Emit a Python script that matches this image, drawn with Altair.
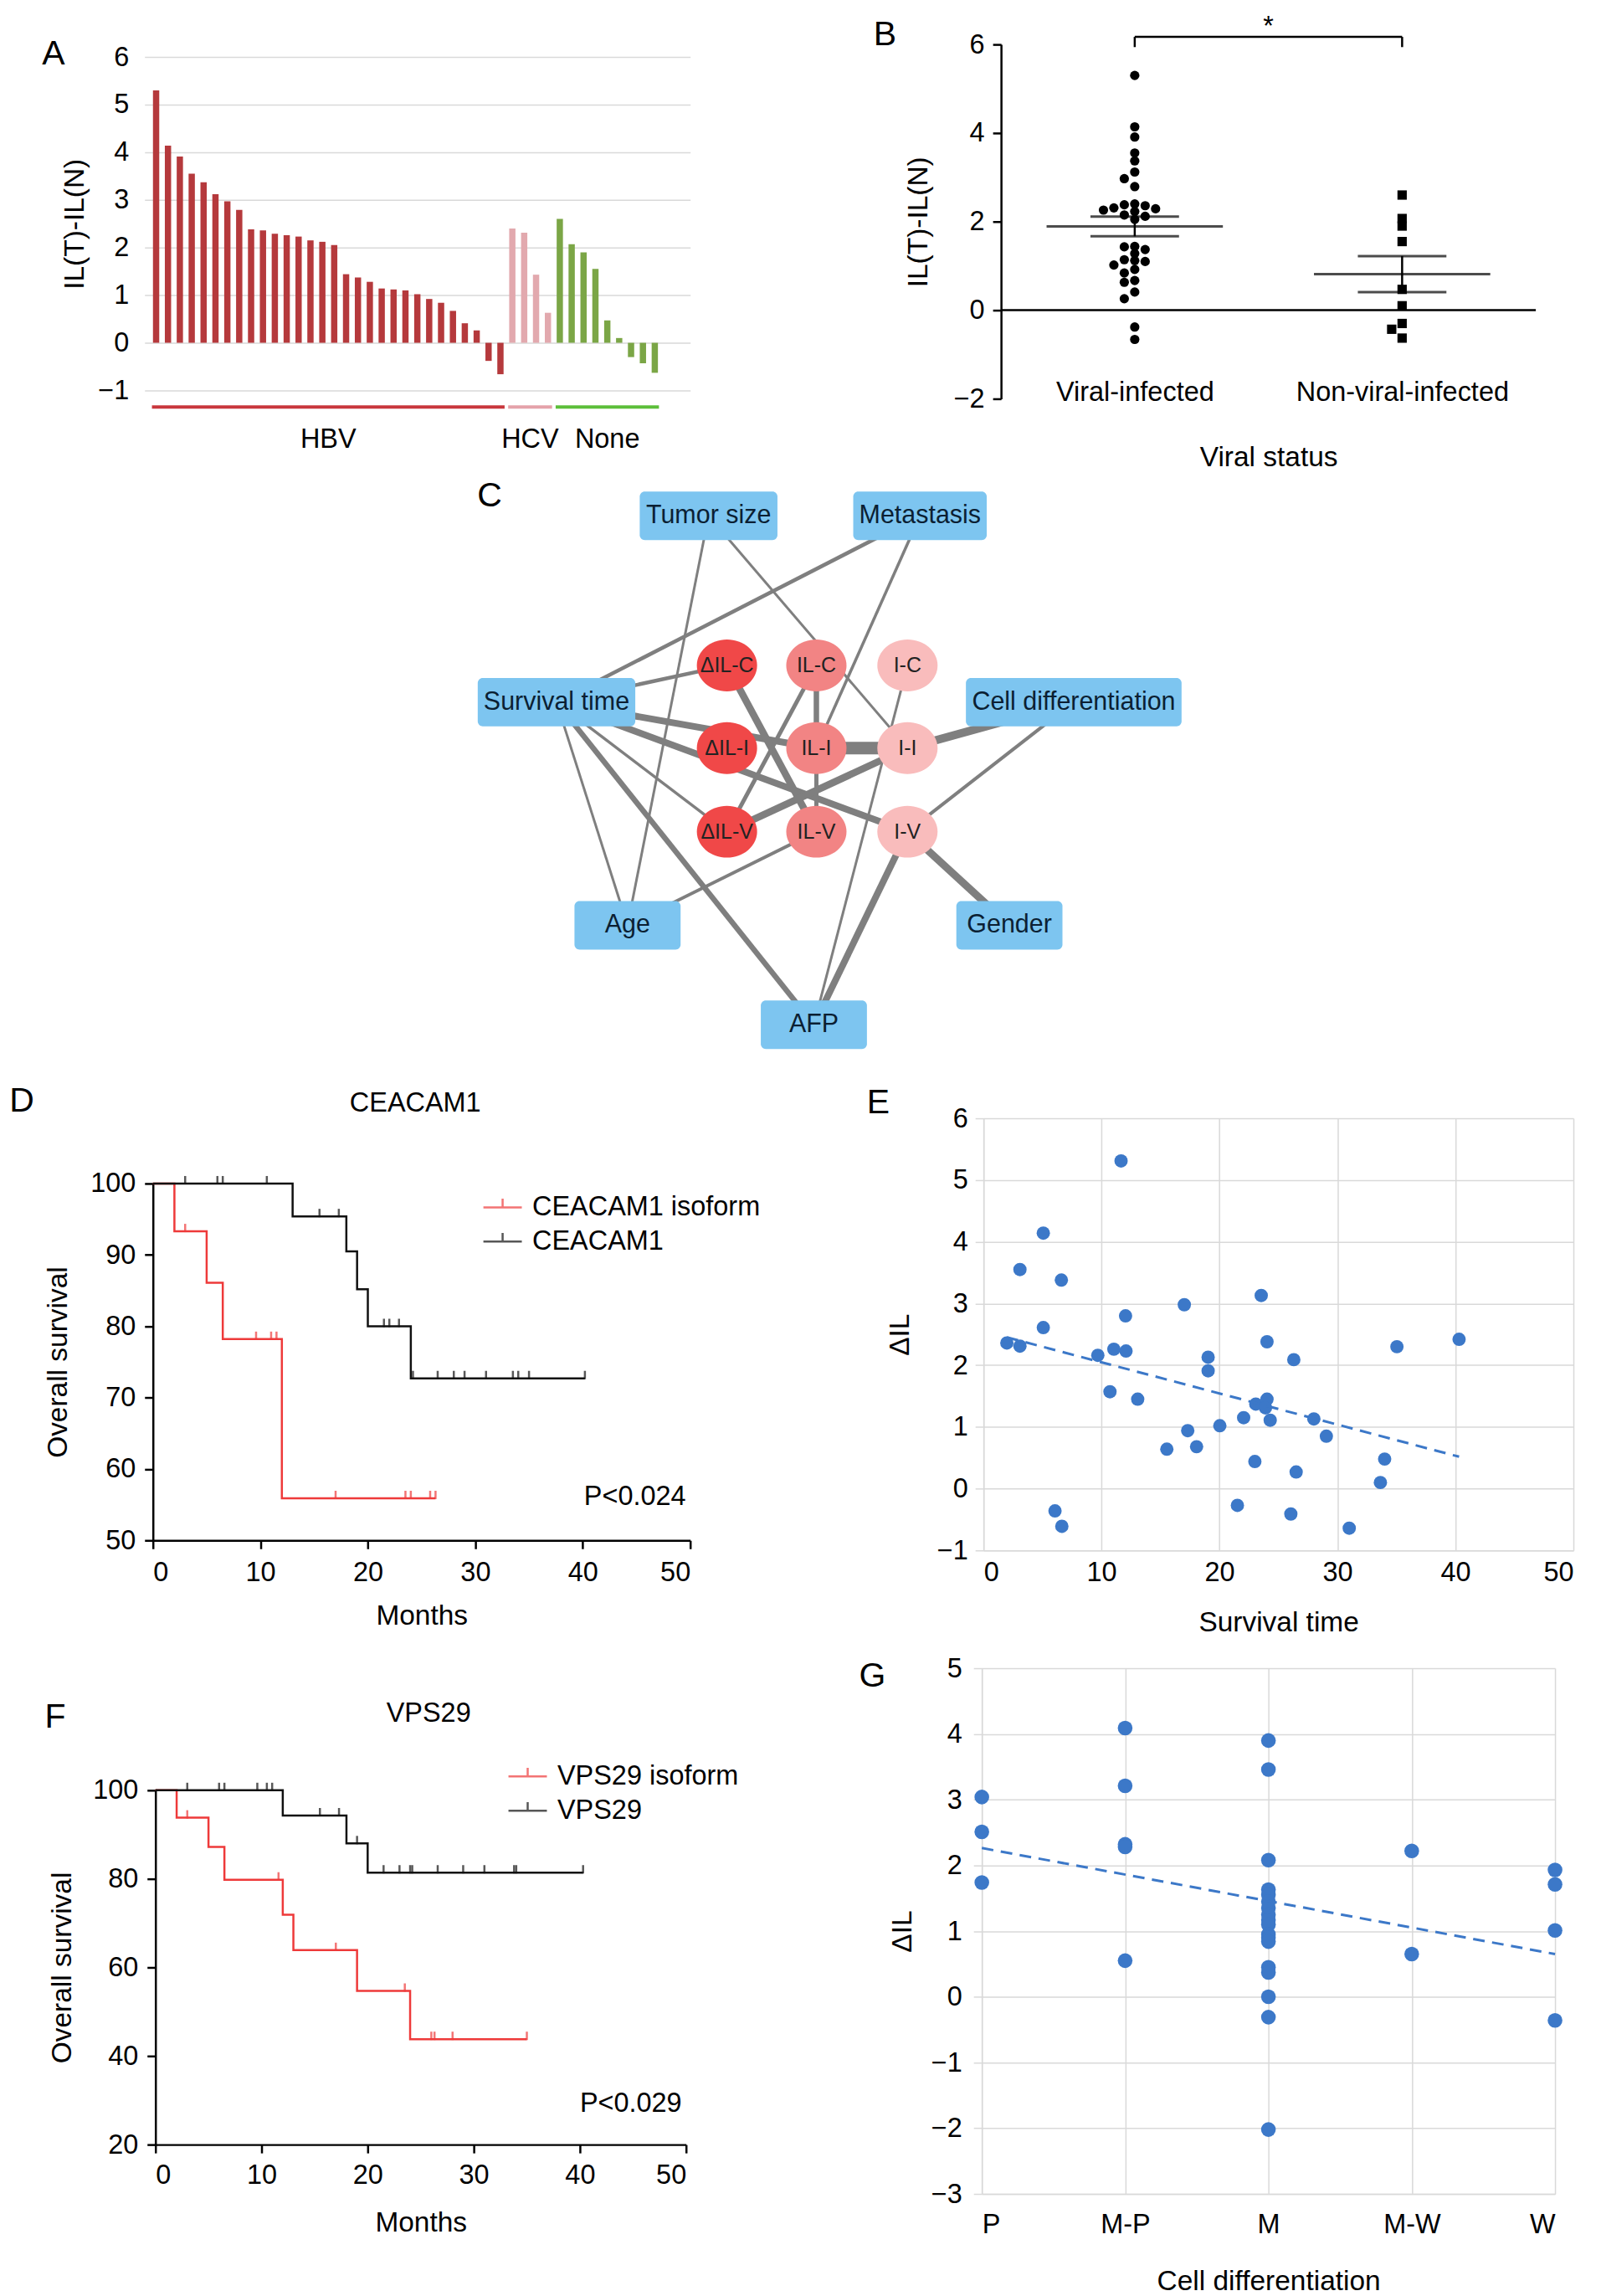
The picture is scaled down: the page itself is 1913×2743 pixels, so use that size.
import altair as alt
import pandas as pd
import numpy as np

FONT = "Liberation Sans"
TICK_FS = 32.5
TITLE_FS = 33.5
LETTER_FS = 41

# ---------------- Panel A / B data ----------------
hbv = [5.30, 4.14, 3.91, 3.55, 3.37, 3.12, 2.97, 2.79, 2.38, 2.36, 2.29, 2.26, 2.23, 2.15, 2.12, 2.05,
       1.44, 1.37, 1.28, 1.14, 1.12, 1.10, 1.02, 0.92, 0.84, 0.67, 0.41, 0.26, -0.38, -0.66]
hcv = [2.40, 2.31, 1.43, 0.63]
none_vals = [2.60, 2.07, 1.90, 1.55, 0.47, 0.10, -0.30, -0.43, -0.63]
virus_groups = ["HBV", "HCV", "None"]
bar_colors = ["#B5393C", "#E2A9AE", "#7BA646"]
under_colors = ["#C8373D", "#E4A2AA", "#5CBF3A"]
status_groups = ["Viral-infected", "Non-viral-infected"]

# ---------------- Panel C data ----------------
node_names = ["Tumor size", "Metastasis", "Survival time", "Cell differentiation", "Age", "Gender", "AFP",
              "ΔIL-C", "IL-C", "I-C", "ΔIL-I", "IL-I", "I-I", "ΔIL-V", "IL-V", "I-V"]
node_x = [848, 1101, 666, 1285, 751, 1208, 974, 870, 977, 1086, 870, 977, 1086, 870, 977, 1086]
node_y = [611, 611, 834, 834, 1101, 1101, 1220, 790, 790, 790, 889, 889, 889, 989, 989, 989]
node_kind = ["clinical"] * 7 + ["dIL", "IL", "I"] * 3
edge_src = ["Tumor size", "Tumor size", "Metastasis", "Metastasis", "Survival time", "Survival time",
            "Survival time", "Survival time", "Survival time", "Survival time", "ΔIL-C", "ΔIL-V", "ΔIL-V",
            "IL-C", "IL-I", "IL-I", "I-C", "I-I", "I-V", "I-V", "I-V", "IL-V"]
edge_dst = ["Age", "I-I", "Survival time", "IL-I", "ΔIL-C", "IL-I", "I-V", "ΔIL-V", "Age", "AFP",
            "IL-V", "IL-C", "I-I", "IL-I", "I-I", "IL-V", "AFP", "Cell differentiation",
            "Cell differentiation", "Gender", "AFP", "Age"]
edge_w = [3, 3, 4.5, 3.5, 4.5, 8, 8, 3.5, 3, 6.5, 8.5, 5, 8.5, 6.5, 15, 5, 3, 10, 4, 9, 8, 4]

# ---------------- Panel D / F data (Kaplan-Meier) ----------------
d_groups = ["CEACAM1 isoform", "CEACAM1"]
d_iso_t = [0, 2, 5, 6.5, 12, 26.3]
d_iso_s = [100, 93.3, 86.1, 78.2, 55.9, 55.9]
d_iso_cens = [3.0, 9.6, 11.0, 11.5, 17.0, 23.5, 24.0, 25.8, 26.3]
d_base_t = [0, 13, 18, 19, 20, 24, 40.2]
d_base_s = [100, 95.4, 90.5, 85.2, 80.0, 72.7, 72.7]
d_base_cens = [3.0, 6.0, 6.5, 10.6, 15.5, 17.3, 21.5, 22.0, 22.9, 24.2, 26.5, 28.0, 29.0, 31.0,
               33.5, 34.0, 35.0, 40.2]

f_groups = ["VPS29 isoform", "VPS29"]
f_iso_t = [0, 2, 5, 6.5, 12, 13, 19, 24, 35.0]
f_iso_s = [100, 93.8, 87.2, 79.8, 71.9, 63.9, 54.7, 43.8, 43.8]
f_iso_cens = [3.0, 11.6, 17.0, 23.5, 26.0, 26.3, 28.0, 35.0]
f_base_t = [0, 12, 18, 20, 40.3]
f_base_s = [100, 94.3, 88.0, 81.4, 81.4]
f_base_cens = [3.0, 6.0, 6.5, 9.6, 10.5, 11.0, 15.5, 17.3, 19.0, 21.5, 23.0, 24.0, 24.2, 26.6,
               29.0, 31.0, 33.8, 34.0, 40.3]

# ---------------- Panel E data ----------------
e_time = [11.66, 5.07, 3.09, 6.60, 17.02, 23.54, 12.04, 5.07, 1.98, 3.09, 11.05, 12.08, 9.69, 19.04,
          19.04, 24.03, 26.30, 35.04, 40.31, 10.72, 13.07, 23.08, 24.03, 23.90, 24.30, 22.05, 20.03,
          28.00, 17.31, 29.06, 15.54, 18.06, 23.00, 34.00, 26.50, 33.64, 21.52, 6.06, 6.64, 26.05, 31.00]
e_dil = [5.31, 4.14, 3.55, 3.38, 2.98, 3.13, 2.80, 2.61, 2.36, 2.31, 2.26, 2.23, 2.16, 2.13, 1.91,
         2.38, 2.09, 2.30, 2.42, 1.57, 1.45, 1.37, 1.45, 1.31, 1.11, 1.15, 1.02, 1.13, 0.94, 0.85,
         0.64, 0.68, 0.44, 0.48, 0.27, 0.10, -0.27, -0.36, -0.61, -0.41, -0.64]

# ---------------- Panel G data ----------------
diff_cats = ["P", "M-P", "M", "M-W", "W"]
g_P = [3.04, 2.51, 1.74]
g_MP = [4.09, 3.21, 2.32, 2.28, 0.55]
g_M = [3.90, 3.46, 2.08, 1.63, 1.55, 1.45, 1.35, 1.25, 1.17, 1.10, 0.95, 0.90, 0.84, 0.45, 0.37,
       0.00, -0.31, -2.02]
g_MW = [2.22, 0.65]
g_W = [1.93, 1.71, 1.01, -0.36]

BLUE = "#3C78C8"
RED = "#EE3A3A"
GRID = "#D9D9D9"


def letter(ch, px, py):
    return alt.Chart(pd.DataFrame({"t": [ch]})).mark_text(
        fontSize=LETTER_FS, align="center", baseline="middle", color="black"
    ).encode(x=alt.value(px), y=alt.value(py), text="t:N")


def label_text(txt, px, py, size=TICK_FS):
    return alt.Chart(pd.DataFrame({"t": [txt]})).mark_text(
        fontSize=size, align="center", baseline="middle", color="black"
    ).encode(x=alt.value(px), y=alt.value(py), text="t:N")


def frame(x1, x2, y1, y2):
    # transparent box that fixes the panel's layout extent
    return alt.Chart(pd.DataFrame({"f": [0]})).mark_rect(opacity=0).encode(
        x=alt.value(x1), x2=alt.value(x2), y=alt.value(y1), y2=alt.value(y2))


def spacer():
    return alt.Chart(pd.DataFrame({"f": [0]})).mark_rect(opacity=0).encode(
        x=alt.value(0), x2=alt.value(1), y=alt.value(0), y2=alt.value(1)).properties(width=1, height=1)


INDEP = dict(color="independent", shape="independent", strokeWidth="independent")


def cell(panel):
    # puts the cell origin at the top-left corner of the panel's frame
    inner = alt.hconcat(spacer(), panel, spacing=0).resolve_scale(**INDEP)
    return alt.vconcat(spacer(), inner, spacing=0).resolve_scale(**INDEP)


# ======================= Panel A =======================
vals = hbv + hcv + none_vals
grps = ["HBV"] * len(hbv) + ["HCV"] * len(hcv) + ["None"] * len(none_vals)
a_df = pd.DataFrame({"i": np.arange(len(vals)), "v": vals, "grp": grps})
g_rows, start = [], 0
for name, lst in zip(virus_groups, [hbv, hcv, none_vals]):
    g_rows.append({"grp": name, "first": start, "last": start + len(lst) - 1})
    start += len(lst)
g_df = pd.DataFrame(g_rows)

AW, AH = 653, 399
a_x = alt.Scale(domain=[-0.62, 44.63], nice=False, zero=False)
a_y = alt.Scale(domain=[-1, 6], nice=False, zero=False)
a_bars = alt.Chart(a_df).mark_bar(size=7.5).encode(
    x=alt.X("i:Q", scale=a_x, axis=None),
    y=alt.Y("v:Q", scale=a_y, axis=alt.Axis(
        values=list(range(-1, 7)), format="d", grid=True, gridColor=GRID, gridWidth=1.5, domain=False,
        ticks=False, labelFontSize=TICK_FS, labelPadding=19, title="IL(T)-IL(N)", titleFontSize=TITLE_FS,
        titlePadding=10)),
    color=alt.Color("grp:N", scale=alt.Scale(domain=virus_groups, range=bar_colors), legend=None),
)
a_under = alt.Chart(g_df).transform_calculate(
    x1="datum.first - 0.35", x2="datum.last + 0.35", yy="-1.35"
).mark_rule(strokeWidth=4).encode(
    x=alt.X("x1:Q", scale=a_x), x2="x2:Q", y=alt.Y("yy:Q", scale=a_y),
    color=alt.Color("grp:N", scale=alt.Scale(domain=virus_groups, range=under_colors), legend=None),
)
a_lab = alt.Chart(g_df).transform_calculate(
    xm="(datum.first + datum.last) / 2", yy="-2.03"
).mark_text(fontSize=TICK_FS, baseline="middle", color="black").encode(
    x=alt.X("xm:Q", scale=a_x), y=alt.Y("yy:Q", scale=a_y), text="grp:N"
)
A = alt.layer(frame(-164, 728, -57, 505), a_bars, a_under, a_lab, letter("A", -109, -3)).resolve_scale(
    color="independent").properties(width=AW, height=AH)


# ======================= Panel B =======================
def swarm(values, d=0.15):
    order = sorted(range(len(values)), key=lambda k: -values[k])
    seq = [0, -1, 1, -2, 2, -3, 3, -4, 4, -5, 5]
    placed, res = [], [0] * len(values)
    for k in order:
        for s in seq:
            if all(abs(values[k] - values[j]) >= d for j, sj in placed if sj == s):
                res[k] = s
                placed.append((k, s))
                break
    return res


viral = hbv + hcv
b_rows = []
for gi, lst in enumerate([viral, none_vals]):
    slots = swarm(lst)
    for v, s in zip(lst, slots):
        b_rows.append({"g": gi, "grp": status_groups[gi], "v": v, "x": gi + s * 0.039})
b_df = pd.DataFrame(b_rows)

BW, BH = 640, 424
b_xs = alt.Scale(domain=[-0.5, 1.5], nice=False, zero=False)
b_ys = alt.Scale(domain=[-2, 6], nice=False, zero=False)
lab_expr = "[" + ",".join("'%s'" % s for s in status_groups) + "][datum.value]"
b_pts = alt.Chart(b_df).mark_point(filled=True, opacity=1, size=125, color="black").encode(
    x=alt.X("x:Q", scale=b_xs, axis=alt.Axis(
        values=[0, 1], labelExpr=lab_expr, domain=False, ticks=False, grid=False, labelFontSize=TICK_FS,
        labelLimit=1000, offset=-24, labelPadding=0, title="Viral status", titleFontSize=TITLE_FS,
        titlePadding=46)),
    y=alt.Y("v:Q", scale=b_ys, axis=alt.Axis(
        values=[-2, 0, 2, 4, 6], format="d", grid=False, domainColor="black", domainWidth=2.5,
        tickColor="black", tickWidth=2.5, tickSize=10, labelFontSize=TICK_FS, labelPadding=10,
        title="IL(T)-IL(N)", titleFontSize=TITLE_FS, titlePadding=25)),
    shape=alt.Shape("grp:N", scale=alt.Scale(domain=status_groups, range=["circle", "square"]), legend=None),
)
b_stats = alt.Chart(b_df).transform_aggregate(
    m="mean(v)", se="stderr(v)", groupby=["g"]
).transform_calculate(lo="datum.m - datum.se", hi="datum.m + datum.se")
b_mean = b_stats.mark_tick(orient="horizontal", size=211, thickness=3, color="black").encode(
    x=alt.X("g:Q", scale=b_xs), y=alt.Y("m:Q", scale=b_ys))
b_lo = b_stats.mark_tick(orient="horizontal", size=106, thickness=3, color="black").encode(
    x=alt.X("g:Q", scale=b_xs), y=alt.Y("lo:Q", scale=b_ys))
b_hi = b_stats.mark_tick(orient="horizontal", size=106, thickness=3, color="black").encode(
    x=alt.X("g:Q", scale=b_xs), y=alt.Y("hi:Q", scale=b_ys))
b_err = b_stats.mark_rule(strokeWidth=2.5, color="black").encode(
    x=alt.X("g:Q", scale=b_xs), y=alt.Y("lo:Q", scale=b_ys), y2="hi:Q")
b_zero = alt.Chart(pd.DataFrame({"z": [0]})).mark_rule(strokeWidth=2.5, color="black").encode(
    y=alt.Y("z:Q", scale=b_ys))
br_df = pd.DataFrame({"a": [0], "b": [1], "top": [6.17], "bot": [5.94], "mid": [0.5], "sy": [6.40],
                      "t": ["*"]})
b_br = alt.Chart(br_df).mark_rule(strokeWidth=2.5, color="black").encode(
    x=alt.X("a:Q", scale=b_xs), x2="b:Q", y=alt.Y("top:Q", scale=b_ys))
b_brl = alt.Chart(br_df).mark_rule(strokeWidth=2.5, color="black").encode(
    x=alt.X("a:Q", scale=b_xs), y=alt.Y("bot:Q", scale=b_ys), y2="top:Q")
b_brr = alt.Chart(br_df).mark_rule(strokeWidth=2.5, color="black").encode(
    x=alt.X("b:Q", scale=b_xs), y=alt.Y("bot:Q", scale=b_ys), y2="top:Q")
b_star = alt.Chart(br_df).mark_text(fontSize=TICK_FS, baseline="middle", color="black").encode(
    x=alt.X("mid:Q", scale=b_xs), y=alt.Y("sy:Q", scale=b_ys), text="t:N")
B = alt.layer(frame(-296, 709, -42, 520), b_pts, b_zero, b_err, b_mean, b_lo, b_hi, b_br, b_brl, b_brr,
              b_star, letter("B", -139, -11)).properties(width=BW, height=BH)

# ======================= Panel C =======================
ARIAL = {"T": 611, "u": 556, "m": 833, "o": 556, "r": 333, " ": 278, "s": 500, "i": 222, "z": 500,
         "e": 556, "M": 833, "t": 278, "a": 556, "S": 667, "v": 500, "l": 222, "C": 722, "d": 556,
         "f": 278, "n": 556, "A": 667, "g": 556, "G": 778, "F": 611, "P": 667}


def text_width(s, size):
    return sum(ARIAL.get(ch, 556) for ch in s) * size / 1000.0


nodes = pd.DataFrame({"name": node_names, "x": node_x, "y": node_y, "kind": node_kind})
nodes["bw"] = [max(127.0, text_width(n, 30.5) + 14) if k == "clinical" else 0.0
               for n, k in zip(node_names, node_kind)]
posmap = {n: (x, y) for n, x, y in zip(node_names, node_x, node_y)}
edges = pd.DataFrame({"s": edge_src, "d": edge_dst, "w": edge_w})
edges["x1"] = edges["s"].map(lambda n: posmap[n][0])
edges["y1"] = edges["s"].map(lambda n: posmap[n][1])
edges["x2"] = edges["d"].map(lambda n: posmap[n][0])
edges["y2"] = edges["d"].map(lambda n: posmap[n][1])

C_X0, C_X1, C_Y0, C_Y1 = 8, 1906, 570, 1285
CW, CH = C_X1 - C_X0, C_Y1 - C_Y0
c_xs = alt.Scale(domain=[C_X0, C_X1], nice=False, zero=False)
c_ys = alt.Scale(domain=[C_Y1, C_Y0], nice=False, zero=False)
ELLIPSE = "M-1,0A1,0.86,0,1,1,1,0A1,0.86,0,1,1,-1,0Z"
c_edges = alt.Chart(edges).mark_rule(color="#7F7F7F").encode(
    x=alt.X("x1:Q", scale=c_xs, axis=None), y=alt.Y("y1:Q", scale=c_ys, axis=None),
    x2="x2:Q", y2="y2:Q", strokeWidth=alt.StrokeWidth("w:Q", scale=None))
c_circ = alt.Chart(nodes).transform_filter("datum.kind != 'clinical'").mark_point(
    filled=True, opacity=1, shape=ELLIPSE, size=5200, strokeWidth=0).encode(
    x=alt.X("x:Q", scale=c_xs, axis=None), y=alt.Y("y:Q", scale=c_ys, axis=None),
    color=alt.Color("kind:N", scale=alt.Scale(domain=["dIL", "IL", "I"],
                                              range=["#F04848", "#F28484", "#F9BCBC"]), legend=None))
c_rect = alt.Chart(nodes).transform_filter("datum.kind == 'clinical'").transform_calculate(
    xa="datum.x - datum.bw / 2", xb="datum.x + datum.bw / 2", ya="datum.y - 29", yb="datum.y + 29"
).mark_rect(cornerRadius=6, color="#7DC5F0").encode(
    x=alt.X("xa:Q", scale=c_xs, axis=None), x2="xb:Q", y=alt.Y("ya:Q", scale=c_ys, axis=None), y2="yb:Q")
c_rtxt = alt.Chart(nodes).transform_filter("datum.kind == 'clinical'").mark_text(
    fontSize=30.5, color="#0B1F33", baseline="middle").encode(
    x=alt.X("x:Q", scale=c_xs, axis=None), y=alt.Y("y:Q", scale=c_ys, axis=None), text="name:N")
c_ctxt = alt.Chart(nodes).transform_filter("datum.kind != 'clinical'").mark_text(
    fontSize=25, color="#222222", baseline="middle").encode(
    x=alt.X("x:Q", scale=c_xs, axis=None), y=alt.Y("y:Q", scale=c_ys, axis=None), text="name:N")
C = alt.layer(c_edges, c_circ, c_rect, c_rtxt, c_ctxt, letter("C", 586 - C_X0, 588 - C_Y0)).properties(
    width=CW, height=CH)


# ======================= Panels D / F =======================
def level(ts, ss, t):
    lv = ss[0]
    for tt, s in zip(ts, ss):
        if tt <= t:
            lv = s
    return lv


def km_panel(groups, curves, censors, ydom, yvals, W, H, leg_xy, row_pad, gene, gene_xy, let, let_xy,
             ptxt, p_xy, pads, fr):
    rows, crow = [], []
    for g, (ts, ss), cs in zip(groups, curves, censors):
        for t, s in zip(ts, ss):
            rows.append({"grp": g, "t": t, "s": s})
        for c in cs:
            crow.append({"grp": g, "t": c, "s": level(ts, ss, c)})
    line_df = pd.DataFrame(rows)
    cens_df = pd.DataFrame(crow)
    xs = alt.Scale(domain=[0, 50], nice=False, zero=False)
    ys = alt.Scale(domain=ydom, nice=False, zero=False)
    ax_common = dict(grid=False, domainColor="black", domainWidth=2.5, tickColor="black", tickWidth=2.5,
                     tickSize=10, labelFontSize=TICK_FS, titleFontSize=TITLE_FS, format="d")
    xax = alt.Axis(values=list(range(0, 51, 10)), labelPadding=pads[0], title="Months",
                   titlePadding=pads[1], **ax_common)
    yax = alt.Axis(values=yvals, labelPadding=pads[2], title="Overall survival", titlePadding=pads[3],
                   **ax_common)
    col = alt.Color("grp:N", scale=alt.Scale(domain=groups, range=[RED, "#111111"]), legend=alt.Legend(
        title=None, orient="none", legendX=leg_xy[0], legendY=leg_xy[1], symbolType="M-1,0L1,0M0,0L0,-0.45",
        symbolSize=2116, symbolStrokeWidth=2.5, labelFontSize=TICK_FS, labelOffset=11, rowPadding=row_pad,
        padding=0, labelLimit=1000))
    lines = alt.Chart(line_df).mark_line(interpolate="step-after", strokeWidth=2.5).encode(
        x=alt.X("t:Q", scale=xs, axis=xax), y=alt.Y("s:Q", scale=ys, axis=yax), color=col)
    ticks = alt.Chart(cens_df).mark_tick(orient="vertical", size=10, thickness=2.5, yOffset=-4).encode(
        x=alt.X("t:Q", scale=xs), y=alt.Y("s:Q", scale=ys), color=alt.Color("grp:N"))
    ptext = alt.Chart(pd.DataFrame({"t": [ptxt], "x": [p_xy[0]], "y": [p_xy[1]]})).mark_text(
        fontSize=TICK_FS, align="right", baseline="middle", color="black").encode(
        x=alt.X("x:Q", scale=xs), y=alt.Y("y:Q", scale=ys), text="t:N")
    return alt.layer(frame(*fr), lines, ticks, ptext, label_text(gene, gene_xy[0], gene_xy[1]),
                     letter(let, let_xy[0], let_xy[1])).properties(width=W, height=H)


D = km_panel(d_groups, [(d_iso_t, d_iso_s), (d_base_t, d_base_s)], [d_iso_cens, d_base_cens],
             [50, 100], list(range(50, 101, 10)), 643, 427, (394, 4), -6, "CEACAM1", (314, -96),
             "D", (-157, -98), "P<0.024", (49.6, 56.1), (12, 20, 11, 21), (-174, 778, -124, 551))
F = km_panel(f_groups, [(f_iso_t, f_iso_s), (f_base_t, f_base_s)], [f_iso_cens, f_base_cens],
             [20, 100], list(range(20, 101, 20)), 635, 424, (421, -41), -7, "VPS29", (327, -92),
             "F", (-120, -87), "P<0.029", (49.6, 29.2), (10, 25, 11, 19), (-177, 775, -174, 602))

# ======================= Panel E =======================
e_df = pd.DataFrame({"t": e_time, "d": e_dil})
grid_common = dict(grid=True, gridColor=GRID, gridWidth=1.5, domainColor=GRID, domainWidth=1.5,
                   labelFontSize=TICK_FS, titleFontSize=TITLE_FS, format="d")
e_xs = alt.Scale(domain=[0, 50], nice=False, zero=False)
e_ys = alt.Scale(domain=[-1, 6], nice=False, zero=False)
e_pts = alt.Chart(e_df).mark_circle(size=255, opacity=1, color=BLUE).encode(
    x=alt.X("t:Q", scale=e_xs, axis=alt.Axis(values=list(range(0, 51, 10)), ticks=False, labelPadding=10,
                                             title="Survival time", titlePadding=28, **grid_common)),
    y=alt.Y("d:Q", scale=e_ys, axis=alt.Axis(values=list(range(-1, 7)), ticks=True, tickColor=GRID,
                                             tickWidth=1.5, tickSize=10, labelPadding=9,
                                             title="ΔIL", titlePadding=27, **grid_common)))
e_fit = alt.Chart(e_df).transform_regression("t", "d").mark_line(
    strokeDash=[14, 9], strokeWidth=3, color=BLUE).encode(
    x=alt.X("t:Q", scale=e_xs), y=alt.Y("d:Q", scale=e_ys))
E = alt.layer(frame(-215, 731, -46, 629), e_pts, e_fit, letter("E", -126, -18)).properties(
    width=706, height=517)

# ======================= Panel G =======================
g_rows = []
for ci, lst in enumerate([g_P, g_MP, g_M, g_MW, g_W]):
    for v in lst:
        g_rows.append({"c": ci + 1, "v": v})
gdf = pd.DataFrame(g_rows)
g_xs = alt.Scale(domain=[1, 5], nice=False, zero=False)
g_ys = alt.Scale(domain=[-3, 5], nice=False, zero=False)
g_expr = "[" + ",".join("'%s'" % s for s in diff_cats) + "][datum.value - 1]"
g_pts = alt.Chart(gdf).mark_circle(size=310, opacity=1, color=BLUE).encode(
    x=alt.X("c:Q", scale=g_xs, axis=alt.Axis(values=[1, 2, 3, 4, 5], labelExpr=g_expr, ticks=False,
                                             labelPadding=21, title="Cell differentiation", titlePadding=35,
                                             **grid_common)),
    y=alt.Y("v:Q", scale=g_ys, axis=alt.Axis(values=list(range(-3, 6)), ticks=True, tickColor=GRID,
                                             tickWidth=1.5, tickSize=10, labelPadding=14,
                                             title="ΔIL", titlePadding=17, **grid_common)))
g_fit = alt.Chart(gdf).transform_regression("c", "v").mark_line(
    strokeDash=[14, 9], strokeWidth=3, color=BLUE).encode(
    x=alt.X("c:Q", scale=g_xs), y=alt.Y("v:Q", scale=g_ys))
G = alt.layer(frame(-213, 733, -28, 748), g_pts, g_fit, letter("G", -131, 10)).properties(
    width=686, height=629)

# ======================= Layout =======================
row1 = alt.hconcat(cell(A), cell(B), spacing=0).resolve_scale(**INDEP)
row3 = alt.hconcat(cell(D), cell(E), spacing=0).resolve_scale(**INDEP)
row4 = alt.hconcat(cell(F), cell(G), spacing=0).resolve_scale(**INDEP)

chart = alt.vconcat(row1, C, row3, row4, spacing=0).resolve_scale(**INDEP).properties(
    padding=0
).configure(font=FONT).configure_view(stroke=None).configure_axis(
    labelFont=FONT, titleFont=FONT, labelColor="black", titleColor="black", titleFontWeight="normal"
).configure_text(font=FONT).configure_legend(labelFont=FONT, labelColor="black")

chart.save("out.html", embed_options={"renderer": "svg", "actions": False})
